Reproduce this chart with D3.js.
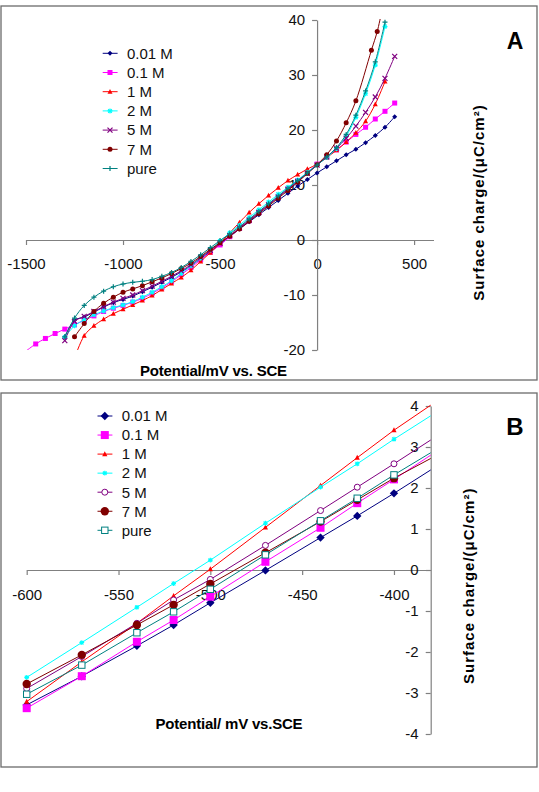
<!DOCTYPE html>
<html><head><meta charset="utf-8">
<script src="https://cdn.jsdelivr.net/npm/d3@7"></script>
<style>
body{margin:0;background:#fff}
text{font-family:"Liberation Sans",Arial,sans-serif}
</style>
</head><body>
<svg id="c" width="539" height="792"></svg>
<script>
// ---------- DATA ----------
const seriesNames = ["0.01 M","0.1 M","1 M","2 M","5 M","7 M","pure"];

// Panel A (potential mV vs SCE, surface charge µC/cm²)
const xA_001 = [-1300,-1250,-1200,-1150,-1100,-1050,-1000,-950,-900,-850,-800,-750,-700,-650,-600,-550,-500,-450,-400,-350,-300,-250,-200,-150,-100,-50,0,50,100,150,200,250,300,350,400];
const yA_001 = [-17.6,-14.6,-14.0,-13.1,-12.2,-11.4,-10.8,-10.2,-9.4,-8.6,-7.7,-6.8,-5.8,-4.7,-3.4,-2.1,-0.8,0.6,2.0,3.3,4.6,5.9,7.2,8.5,9.8,11.0,12.2,13.3,14.4,15.5,16.5,17.7,19.0,20.5,22.4];

const xA_01 = [-1500,-1450,-1400,-1350,-1300,-1250,-1200,-1150,-1100,-1050,-1000,-950,-900,-850,-800,-750,-700,-650,-600,-550,-500,-450,-400,-350,-300,-250,-200,-150,-100,-50,0,50,100,150,200,250,300,350,400];
const yA_01 = [-20.2,-18.9,-17.9,-17.0,-16.2,-15.4,-14.6,-13.8,-13.0,-12.4,-11.9,-11.3,-10.6,-9.7,-8.7,-7.6,-6.3,-5.0,-3.6,-2.2,-0.9,0.6,2.1,3.5,5.0,6.4,7.9,9.3,10.8,12.3,13.8,15.1,16.4,17.8,19.2,20.5,22.0,23.4,24.9];

const xA_1 = [-1250,-1200,-1150,-1100,-1050,-1000,-950,-900,-850,-800,-750,-700,-650,-600,-550,-500,-450,-400,-350,-300,-250,-200,-150,-100,-50,0,50,100,150,200,250,300,350];
const yA_1 = [-21.5,-17.4,-15.6,-14.4,-13.4,-12.6,-11.8,-11.0,-10.1,-9.0,-7.9,-6.8,-5.5,-3.9,-2.3,-0.6,1.3,3.2,5.0,6.6,8.1,9.5,10.8,11.9,12.9,13.8,15.0,16.3,17.8,19.5,21.6,24.7,28.8];

const xA_2 = [-1300,-1250,-1200,-1150,-1100,-1050,-1000,-950,-900,-850,-800,-750,-700,-650,-600,-550,-500,-450,-400,-350,-300,-250,-200,-150,-100,-50,0,50,100,150,200,250,300,350];
const yA_2 = [-17.7,-15.6,-14.5,-13.6,-12.9,-12.3,-11.8,-11.2,-10.4,-9.5,-8.5,-7.4,-6.1,-4.7,-3.3,-1.8,-0.2,1.3,2.7,4.1,5.5,6.9,8.3,9.6,10.9,12.3,13.7,15.0,16.6,18.9,22.3,26.6,31.8,38.8];

const xA_5 = [-1300,-1250,-1200,-1150,-1100,-1050,-1000,-950,-900,-850,-800,-750,-700,-650,-600,-550,-500,-450,-400,-350,-300,-250,-200,-150,-100,-50,0,50,100,150,200,250,300,350,400];
const yA_5 = [-18.3,-14.8,-13.9,-13.0,-12.1,-11.3,-10.6,-10.0,-9.2,-8.4,-7.5,-6.6,-5.6,-4.5,-3.2,-1.9,-0.6,0.8,2.2,3.6,5.0,6.4,7.8,9.2,10.6,12.1,13.6,15.1,16.7,18.5,20.7,23.2,26.0,29.4,33.4];

const xA_7 = [-1250,-1200,-1150,-1100,-1050,-1000,-950,-900,-850,-800,-750,-700,-650,-600,-550,-500,-450,-400,-350,-300,-250,-200,-150,-100,-50,0,50,100,150,200,280,310,330];
const yA_7 = [-17.6,-15.2,-13.0,-11.5,-10.4,-9.5,-8.9,-8.3,-7.6,-6.9,-6.1,-5.2,-4.2,-3.0,-1.7,-0.5,0.7,2.0,3.4,4.8,6.2,7.6,9.0,10.5,12.1,13.7,15.5,18.0,21.3,25.3,34.5,37.9,41.0];

const xA_pure = [-1300,-1250,-1200,-1150,-1100,-1050,-1000,-950,-900,-850,-800,-750,-700,-650,-600,-550,-500,-450,-400,-350,-300,-250,-200,-150,-100,-50,0,50,100,150,200,250,300,350];
const yA_pure = [-17.6,-14.2,-11.9,-10.4,-9.3,-8.5,-8.0,-7.7,-7.5,-7.2,-6.6,-5.9,-5.0,-3.9,-2.7,-1.4,-0.1,1.1,2.4,3.8,5.2,6.6,8.0,9.4,10.8,12.2,13.6,15.1,16.8,19.2,22.7,27.1,32.4,39.6];

const xTicksA = [-1500,-1000,-500,0,500];
const yTicksA = [-20,-10,0,10,20,30,40];

// Panel B
const xB = [-600,-570,-540,-520,-500,-470,-440,-420,-400,-380];
const yB_001  = [-3.29,-2.59,-1.85,-1.34,-0.80,-0.01,0.79,1.32,1.87,2.44];
const yB_01   = [-3.37,-2.59,-1.75,-1.22,-0.65,0.20,1.03,1.63,2.21,2.80];
const yB_1    = [-3.21,-2.24,-1.30,-0.63,0.02,1.04,2.06,2.74,3.41,4.02];
const yB_2    = [-2.62,-1.77,-0.91,-0.33,0.24,1.14,2.02,2.59,3.19,3.76];
const yB_5    = [-2.89,-2.11,-1.30,-0.73,-0.23,0.60,1.45,2.02,2.59,3.17];
const yB_7    = [-2.78,-2.07,-1.34,-0.85,-0.34,0.42,1.18,1.71,2.24,2.72];
const yB_pure = [-3.03,-2.32,-1.53,-1.02,-0.47,0.37,1.20,1.75,2.32,2.86];

const xTicksB = [-600,-550,-500,-450,-400];
const yTicksB = [-4,-3,-2,-1,0,1,2,3,4];

// ---------- STYLE ----------
const colors = ["#000080","#FF00FF","#FF0000","#00FFFF","#800080","#800000","#008080"];
const markersA = ["diamond","square","triangle","star","x","circle","plus"];
const markersB = ["diamond","square","triangle","star","ocircle","circle","osquare"];
const sizesB  = [4.2,4,2.6,2.4,3,4.2,3.2];

const svg = d3.select("#c");
const FONT = "'Liberation Sans',Arial,sans-serif";

function marker(g, type, cx, cy, s, color){
  switch(type){
    case "diamond": g.append("path").attr("d",`M${cx},${cy-s}L${cx+s},${cy}L${cx},${cy+s}L${cx-s},${cy}Z`).attr("fill",color); break;
    case "square": g.append("rect").attr("x",cx-s).attr("y",cy-s).attr("width",2*s).attr("height",2*s).attr("fill",color); break;
    case "triangle": g.append("path").attr("d",`M${cx},${cy-s*1.1}L${cx+s},${cy+s*0.8}L${cx-s},${cy+s*0.8}Z`).attr("fill",color); break;
    case "circle": g.append("circle").attr("cx",cx).attr("cy",cy).attr("r",s).attr("fill",color); break;
    case "ocircle": g.append("circle").attr("cx",cx).attr("cy",cy).attr("r",s).attr("fill","#fff").attr("stroke",color).attr("stroke-width",1); break;
    case "osquare": g.append("rect").attr("x",cx-s).attr("y",cy-s).attr("width",2*s).attr("height",2*s).attr("fill","#fff").attr("stroke",color).attr("stroke-width",1); break;
    case "plus": g.append("path").attr("d",`M${cx-s},${cy}H${cx+s}M${cx},${cy-s}V${cy+s}`).attr("stroke",color).attr("stroke-width",1.2); break;
    case "x": g.append("path").attr("d",`M${cx-s},${cy-s}L${cx+s},${cy+s}M${cx-s},${cy+s}L${cx+s},${cy-s}`).attr("stroke",color).attr("stroke-width",1.2); break;
    case "star": g.append("path").attr("d",`M${cx-s},${cy}H${cx+s}M${cx},${cy-s}V${cy+s}M${cx-s*0.75},${cy-s*0.75}L${cx+s*0.75},${cy+s*0.75}M${cx-s*0.75},${cy+s*0.75}L${cx+s*0.75},${cy-s*0.75}`).attr("stroke",color).attr("stroke-width",1.1); break;
  }
}

function styleAxis(g){
  g.selectAll("path.domain").attr("stroke","#808080").attr("stroke-width",1.2);
  g.selectAll(".tick line").attr("stroke","#808080").attr("stroke-width",1.2);
  g.selectAll(".tick text").attr("fill","#111").style("font-size","15px").style("font-family",FONT);
}

// frames
svg.append("rect").attr("x",1).attr("y",6).attr("width",536).attr("height",374).attr("fill","none").attr("stroke","#6b6b6b").attr("stroke-width",1.3);
svg.append("rect").attr("x",1).attr("y",393).attr("width",536).attr("height",374).attr("fill","none").attr("stroke","#6b6b6b").attr("stroke-width",1.3);

// ---------- PANEL A ----------
const xA = d3.scaleLinear().domain([-1500,600]).range([26,433.5]);
const yA = d3.scaleLinear().domain([-20,40]).range([350,20]);

const gA = svg.append("g");
const axAx = gA.append("g").attr("transform",`translate(0,${yA(0)})`)
  .call(d3.axisBottom(xA).tickValues(xTicksA).tickFormat(d3.format("d")).tickSize(5).tickSizeOuter(0).tickPadding(13));
styleAxis(axAx);
const axAy = gA.append("g").attr("transform",`translate(${xA(0)},0)`)
  .call(d3.axisLeft(yA).tickValues(yTicksA).tickFormat(d3.format("d")).tickSize(5).tickSizeOuter(0).tickPadding(7));
styleAxis(axAy);
axAx.selectAll(".tick text").text(d=>d<0?"-"+Math.abs(d):d);
axAy.selectAll(".tick text").text(d=>d<0?"-"+Math.abs(d):d);

svg.append("clipPath").attr("id","clipA").append("rect").attr("x",xA(-1500)).attr("y",yA(40)-1).attr("width",xA(600)-xA(-1500)).attr("height",yA(-20)-yA(40)+1);
const plotA = gA.append("g").attr("clip-path","url(#clipA)");

const dataA = [
  xA_001.map((x,i)=>({x, y:yA_001[i]})),
  xA_01.map((x,i)=>({x, y:yA_01[i]})),
  xA_1.map((x,i)=>({x, y:yA_1[i]})),
  xA_2.map((x,i)=>({x, y:yA_2[i]})),
  xA_5.map((x,i)=>({x, y:yA_5[i]})),
  xA_7.map((x,i)=>({x, y:yA_7[i]})),
  xA_pure.map((x,i)=>({x, y:yA_pure[i]}))
];
const lineA = d3.line().x(d=>xA(d.x)).y(d=>yA(d.y)).curve(d3.curveCatmullRom.alpha(0.5));
const orderA = [0,1,2,3,4,5,6];
orderA.forEach(k=>{
  plotA.append("path").attr("d",lineA(dataA[k])).attr("fill","none").attr("stroke",colors[k]).attr("stroke-width",1);
  const mg = plotA.append("g");
  dataA[k].forEach((d,i)=>{
    if(k===1 && i===0) return;  // line start at axis edge
    if(k===2 && i===0) return;
    marker(mg, markersA[k], xA(d.x), yA(d.y), 2.5, colors[k]);
  });
});

// legend A
seriesNames.forEach((n,k)=>{
  const yy = 53.3 + k*19.2;
  gA.append("line").attr("x1",102.7).attr("x2",117.6).attr("y1",yy).attr("y2",yy).attr("stroke",colors[k]).attr("stroke-width",1);
  marker(gA, markersA[k], 110, yy, 2.5, colors[k]);
  gA.append("text").attr("x",126.9).attr("y",yy+5.3).text(n).style("font-size","15px").attr("fill","#111");
});

gA.append("text").attr("x",213.5).attr("y",375.5).attr("text-anchor","middle").text("Potential/mV vs. SCE")
  .style("font-size","15px").style("font-weight","bold").style("letter-spacing","-0.2px");
gA.append("text").attr("transform","translate(479,202.5) rotate(-90)").attr("text-anchor","middle").attr("dy","0.35em")
  .text("Surface charge/(μC/cm²)").style("font-size","15px").style("font-weight","bold").style("letter-spacing","1px");
gA.append("text").attr("x",515).attr("y",48.5).attr("text-anchor","middle").text("A").style("font-size","23px").style("font-weight","bold");

// ---------- PANEL B ----------
const xBs = d3.scaleLinear().domain([-600,-380]).range([26.7,430.7]);
const yBs = d3.scaleLinear().domain([-4,4]).range([734,406]);
const gB = svg.append("g");
const axBx = gB.append("g").attr("transform",`translate(0,${yBs(0)})`)
  .call(d3.axisBottom(xBs).tickValues(xTicksB).tickFormat(d3.format("d")).tickSize(5).tickSizeOuter(0).tickPadding(14));
styleAxis(axBx);
const axBy = gB.append("g").attr("transform",`translate(${xBs(-380)},0)`)
  .call(d3.axisLeft(yBs).tickValues(yTicksB).tickFormat(d3.format("d")).tickSize(5).tickSizeOuter(0).tickPadding(7));
styleAxis(axBy);
axBx.selectAll(".tick text").text(d=>d<0?"-"+Math.abs(d):d);
axBy.selectAll(".tick text").text(d=>d<0?"-"+Math.abs(d):d);

const yBall = [yB_001,yB_01,yB_1,yB_2,yB_5,yB_7,yB_pure];
const lineB = d3.line().x(d=>xBs(d.x)).y(d=>yBs(d.y));
yBall.forEach((arr,k)=>{
  const pts = xB.map((x,i)=>({x, y:arr[i]}));
  gB.append("path").attr("d",lineB(pts)).attr("fill","none").attr("stroke",colors[k]).attr("stroke-width",1);
});
yBall.forEach((arr,k)=>{
  const mg = gB.append("g");
  xB.forEach((x,i)=>{
    if(x > -400) return; // line end at axis, no marker
    marker(mg, markersB[k], xBs(x), yBs(arr[i]), sizesB[k], colors[k]);
  });
});

seriesNames.forEach((n,k)=>{
  const yy = 416 + k*19.05;
  gB.append("line").attr("x1",97.5).attr("x2",112.4).attr("y1",yy).attr("y2",yy).attr("stroke",colors[k]).attr("stroke-width",1);
  marker(gB, markersB[k], 104.8, yy, sizesB[k], colors[k]);
  gB.append("text").attr("x",121.7).attr("y",yy+5.3).text(n).style("font-size","15px").attr("fill","#111");
});

gB.append("text").attr("x",229).attr("y",728.5).attr("text-anchor","middle").text("Potential/ mV vs.SCE")
  .style("font-size","15px").style("font-weight","bold").style("letter-spacing","-0.2px");
gB.append("text").attr("transform","translate(468.5,585.8) rotate(-90)").attr("text-anchor","middle").attr("dy","0.35em")
  .text("Surface charge/(μC/cm²)").style("font-size","15px").style("font-weight","bold").style("letter-spacing","1px");
gB.append("text").attr("x",515).attr("y",435).attr("text-anchor","middle").text("B").style("font-size","24px").style("font-weight","bold");
</script>
</body></html>
